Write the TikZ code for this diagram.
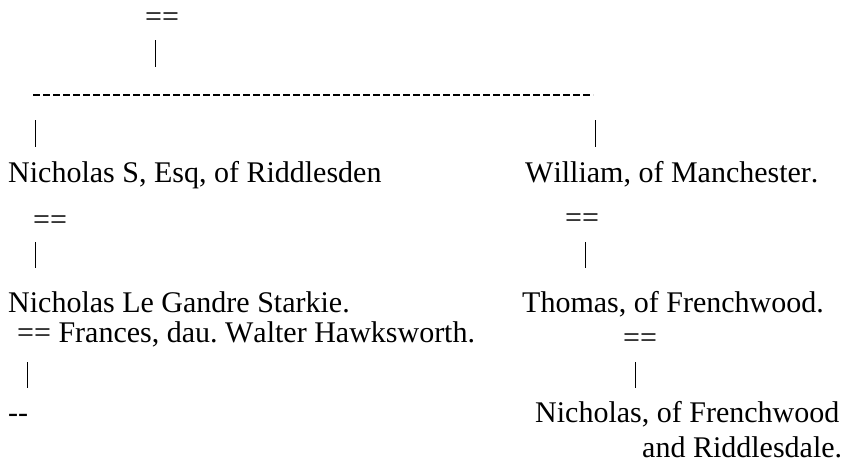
\documentclass[tikz,border=0pt]{standalone}
\usepackage{fontspec}
\setmainfont[Kerning=Off]{Liberation Serif}
\usetikzlibrary{positioning}
\frenchspacing

\tikzset{
  person/.style={anchor=base west, inner sep=0pt, font=\fontsize{30}{35}\selectfont},
  bar/.style={line width=0.9pt},
  rule/.style={line width=1.5pt, dash pattern=on 7.4pt off 2.6pt}
}

\begin{document}
\begin{tikzpicture}[x=1pt, y=-1pt]
  \useasboundingbox (0,0) rectangle (846,467);
  % Top marriage
  \node[person] (eqTop) at (145,26) {==};
  \coordinate (ruleL) at (33,95);
  \coordinate (ruleR) at (593,95);
  \draw[bar] ([xshift=10pt]eqTop.base west) ++(0,14) -- ++(0,27);
  \draw[rule] (ruleL) -- (ruleR);
  % The two sons
  \node[person] (nicholasS) at (8,182) {Nicholas S, Esq, of Riddlesden};
  \node[person] (william) at (525,182) {William, of Manchester.};
  \draw[bar] (ruleL) ++(2,25) -- ++(0,27);
  \draw[bar] (ruleR) ++(2,25) -- ++(0,27);
  % Left line
  \node[person] (eqLeft) at (33,229) {==};
  \node[person] (nicholasLG) at (8,312) {Nicholas Le Gandre Starkie.};
  \draw[bar] (eqLeft.base west) ++(2,13) -- ++(0,26);
  \node[person] (frances) at (17,342) {== Frances, dau. Walter Hawksworth.};
  \node[person] (issue) at (8,422) {-{}-};
  \draw[bar] (frances.base west) ++(10,20) -- ++(0,26);
  % Right line
  \node[person] (eqRight) at (565,227) {==};
  \node[person] (thomas) at (522,312) {Thomas, of Frenchwood.};
  \draw[bar] (eqRight.base west) ++(20,15) -- ++(0,26);
  \node[person] (eqThomas) at (623,347) {==};
  \node[person] (nicholasF) at (535,422) {Nicholas, of Frenchwood};
  \node[person] (nicholasFb) at (642,457) {and Riddlesdale.};
  \draw[bar] (eqThomas.base west) ++(12,15) -- ++(0,26);
\end{tikzpicture}
\end{document}
